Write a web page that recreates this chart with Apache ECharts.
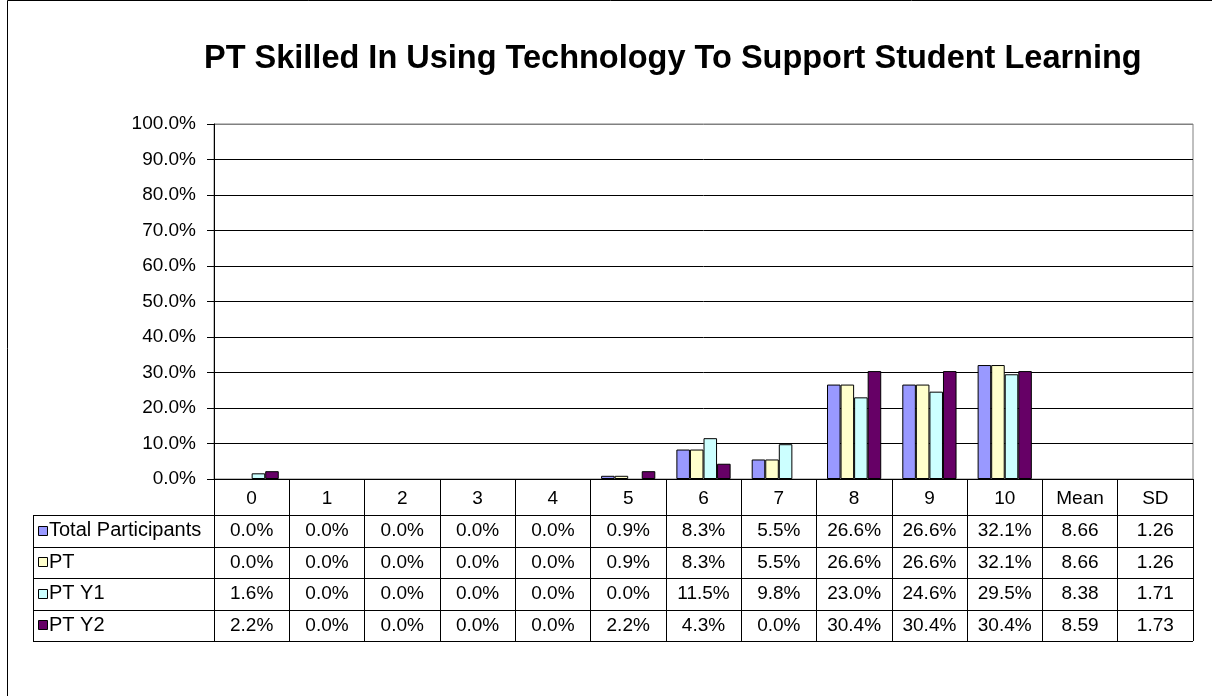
<!DOCTYPE html>
<html>
<head>
<meta charset="utf-8">
<script src="https://cdn.jsdelivr.net/npm/echarts@6/dist/echarts.min.js"></script>
<style>
  html, body { margin: 0; padding: 0; background: #fff; }
  #chart { width: 1212px; height: 696px; }
</style>
</head>
<body>
<div id="chart"></div>
<script>
// Categories on the rating scale, followed by the summary columns of the data table
const categories = ['0', '1', '2', '3', '4', '5', '6', '7', '8', '9', '10', 'Mean', 'SD'];

const seriesNames = ['Total Participants', 'PT', 'PT Y1', 'PT Y2'];
const seriesColors = ['#9999FF', '#FFFFCC', '#CCFFFF', '#660066'];

// Percent of respondents at each rating (0..10)
const pctTotal = [0.0, 0.0, 0.0, 0.0, 0.0, 0.9, 8.3, 5.5, 26.6, 26.6, 32.1];
const pctPT    = [0.0, 0.0, 0.0, 0.0, 0.0, 0.9, 8.3, 5.5, 26.6, 26.6, 32.1];
const pctY1    = [1.6, 0.0, 0.0, 0.0, 0.0, 0.0, 11.5, 9.8, 23.0, 24.6, 29.5];
const pctY2    = [2.2, 0.0, 0.0, 0.0, 0.0, 2.2, 4.3, 0.0, 30.4, 30.4, 30.4];

// Summary statistics per group
const means = [8.66, 8.66, 8.38, 8.59];
const sds   = [1.26, 1.26, 1.71, 1.73];

// Value-axis ticks
const yMin = 0, yMax = 100, yStep = 10;

const pctSeries = [pctTotal, pctPT, pctY1, pctY2];

const FONT = '"Liberation Sans", Arial, sans-serif';
const FS = 19;

// Layout of plot area and table
const gridLeft = 214, gridTop = 124, gridRight = 1193, gridBottom = 479;
const headerH = 36, rowH = 31.5, tableLeft = 33;

const chart = echarts.init(document.getElementById('chart'), null, { renderer: 'canvas' });

// Gridlines are black; the top edge belongs to the grey plot-area frame
const nLines = Math.round((yMax - yMin) / yStep) + 1;
const splitColors = [];
for (let i = 0; i < nLines; i++) splitColors.push(i === nLines - 1 ? '#808080' : '#000');

const option = {
  animation: false,
  backgroundColor: '#fff',
  title: {
    text: 'PT Skilled In Using Technology To Support Student Learning',
    left: 204,
    top: 43,
    padding: 0,
    textStyle: { fontFamily: FONT, fontSize: 32.5, fontWeight: 'bold', color: '#000' }
  },
  grid: {
    left: gridLeft, top: gridTop,
    width: gridRight - gridLeft, height: gridBottom - gridTop,
    show: true, borderColor: '#808080', borderWidth: 1,
    containLabel: false
  },
  xAxis: {
    type: 'category',
    data: categories,
    boundaryGap: true,
    axisLine: { show: true, lineStyle: { color: '#000', width: 1 } },
    axisTick: {
      show: true, inside: false, alignWithLabel: false, interval: 0,
      length: headerH + rowH * seriesNames.length,
      lineStyle: { color: '#000', width: 1 }
    },
    axisLabel: {
      interval: 0, margin: 10,
      fontFamily: FONT, fontSize: FS, color: '#000'
    },
    splitLine: { show: false }
  },
  yAxis: {
    type: 'value',
    min: yMin, max: yMax, interval: yStep,
    axisLine: { show: true, lineStyle: { color: '#000', width: 1 } },
    axisTick: { show: true, inside: false, length: 7, lineStyle: { color: '#000' } },
    axisLabel: {
      margin: 18, fontFamily: FONT, fontSize: FS, color: '#000',
      formatter: v => v.toFixed(1) + '%'
    },
    splitLine: { show: true, lineStyle: { color: splitColors, width: 1 } }
  },
  series: seriesNames.map((name, i) => ({
    name,
    type: 'bar',
    barGap: '0%',
    barCategoryGap: '28%',
    itemStyle: { color: seriesColors[i], borderColor: '#000', borderWidth: 1 },
    // zero-height bars carry no outline
    data: pctSeries[i].map(v => v === 0 ? { value: v, itemStyle: { borderWidth: 0 } } : v)
      .concat([null, null])
  }))
};

chart.setOption(option);

// Data table under the plot: one row per group with its legend key
function buildTable() {
  const els = [];
  const xs = categories.map((c, i) => chart.convertToPixel({ xAxisIndex: 0 }, i));
  const rowTop0 = gridBottom + headerH;

  for (let r = 0; r <= seriesNames.length; r++) {
    const y = Math.round(rowTop0 + r * rowH) + 0.5;
    els.push({ type: 'line', silent: true,
      shape: { x1: tableLeft, y1: y, x2: gridRight, y2: y },
      style: { stroke: '#000', lineWidth: 1 } });
  }
  els.push({ type: 'line', silent: true,
    shape: { x1: tableLeft + 0.5, y1: rowTop0, x2: tableLeft + 0.5, y2: rowTop0 + rowH * seriesNames.length },
    style: { stroke: '#000', lineWidth: 1 } });

  seriesNames.forEach((name, r) => {
    const cy = rowTop0 + r * rowH + rowH / 2;
    els.push({ type: 'rect', silent: true,
      shape: { x: tableLeft + 5.5, y: Math.round(cy - 5) + 0.5, width: 9, height: 9 },
      style: { fill: seriesColors[r], stroke: '#000', lineWidth: 1 } });
    els.push({ type: 'text', silent: true, x: tableLeft + 16, y: cy,
      style: { text: name, font: '20px ' + FONT, fill: '#000', align: 'left', verticalAlign: 'middle' } });

    const cells = pctSeries[r].map(v => v.toFixed(1) + '%')
      .concat([means[r].toFixed(2), sds[r].toFixed(2)]);
    cells.forEach((t, c) => {
      els.push({ type: 'text', silent: true, x: xs[c], y: cy + 0.5,
        style: { text: t, font: FS + 'px ' + FONT, fill: '#000', align: 'center', verticalAlign: 'middle' } });
    });
  });

  // Chart-area frame
  els.push({ type: 'rect', silent: true, z: -1,
    shape: { x: 7.5, y: 0.5, width: 1400, height: 900 },
    style: { fill: 'none', stroke: '#000', lineWidth: 1 } });
  return els;
}

chart.setOption({ graphic: buildTable() });
</script>
</body>
</html>
